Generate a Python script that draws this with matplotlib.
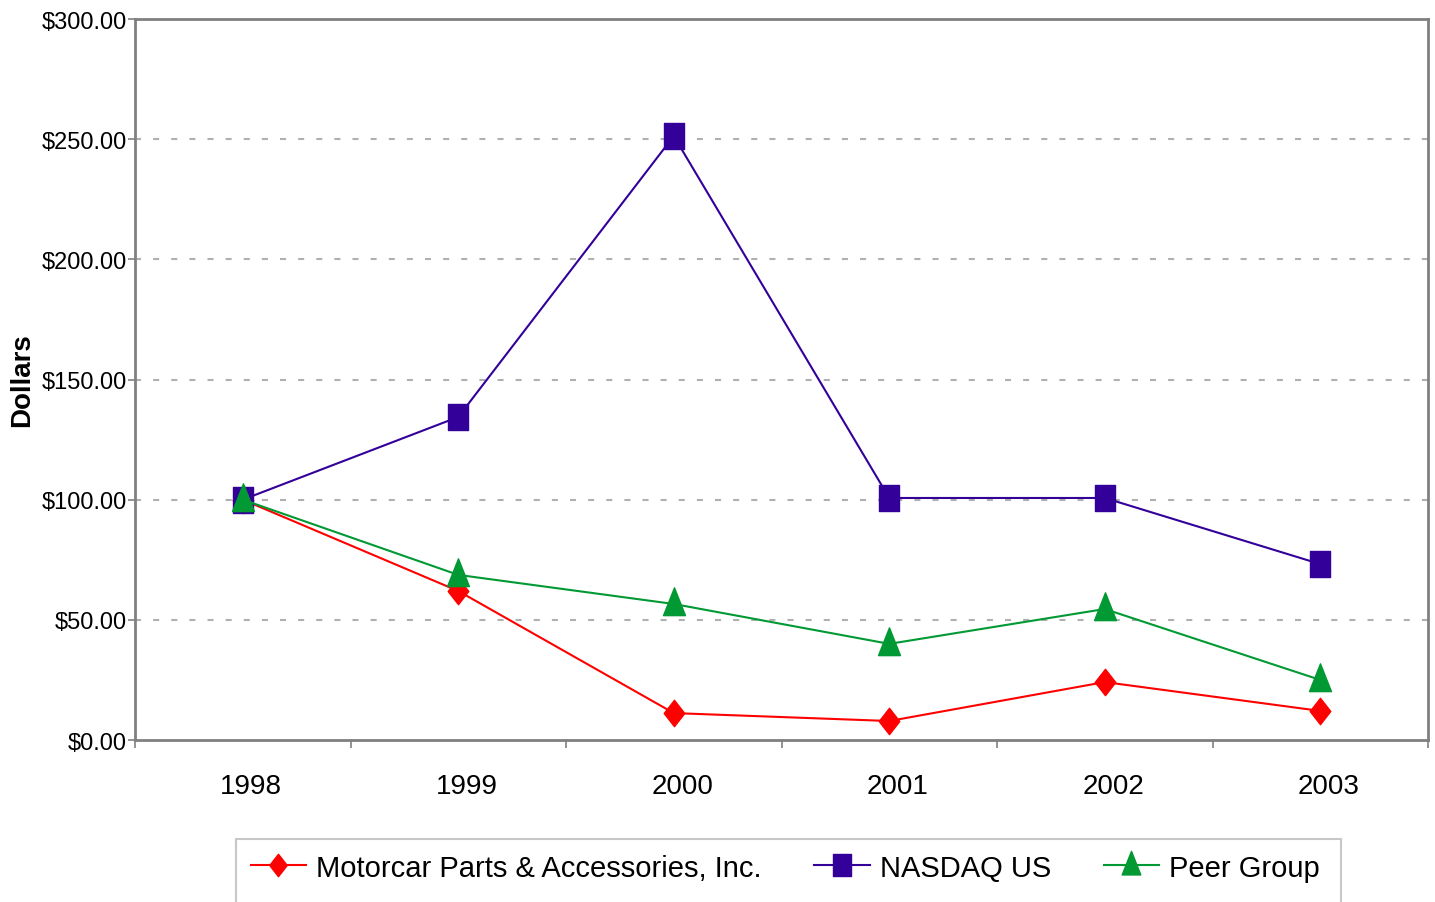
import matplotlib
matplotlib.use("Agg")
import matplotlib.pyplot as plt
from matplotlib import font_manager as fm
from matplotlib.path import Path
from matplotlib.patches import Rectangle
import numpy as np

years = ["1998", "1999", "2000", "2001", "2002", "2003"]
motorcar = [100.0, 62.0, 11.2, 7.9, 24.1, 12.1]
nasdaq = [100.0, 134.4, 251.3, 100.7, 100.7, 73.2]
peer = [100.0, 68.7, 56.6, 40.0, 54.5, 25.0]
yticks = [0, 50, 100, 150, 200, 250, 300]
ytick_labels = ["$0.00", "$50.00", "$100.00", "$150.00", "$200.00", "$250.00", "$300.00"]
series_names = ["Motorcar Parts & Accessories, Inc.", "NASDAQ US", "Peer Group"]

names = {f.name for f in fm.fontManager.ttflist}
base = "Liberation Sans" if "Liberation Sans" in names else "DejaVu Sans"
narrow = "Liberation Sans Narrow" if "Liberation Sans Narrow" in names else base
plt.rcParams["font.family"] = [base, "DejaVu Sans"]

# tall (vertically stretched) marker shapes as in the reference
sq = Path([(-0.78, -1), (0.78, -1), (0.78, 1), (-0.78, 1), (-0.78, -1)],
          [Path.MOVETO, Path.LINETO, Path.LINETO, Path.LINETO, Path.CLOSEPOLY])
dia = Path([(0, -1), (0.78, 0), (0, 1), (-0.78, 0), (0, -1)],
           [Path.MOVETO, Path.LINETO, Path.LINETO, Path.LINETO, Path.CLOSEPOLY])
tri = Path([(-0.79, -0.8), (0.79, -0.8), (0, 1.2), (-0.79, -0.8)],
           [Path.MOVETO, Path.LINETO, Path.LINETO, Path.CLOSEPOLY])

fig = plt.figure(figsize=(14.35, 9.03), dpi=100)
ax = fig.add_axes([135/1435, 1-741/903, (1428-135)/1435, (741-20)/903])

x = np.arange(len(years))
red = "#FF0000"
purple = "#330099"
green = "#009933"

ax.plot(x, motorcar, color=red, lw=1.5, marker=dia, ms=19, mec=red, mfc=red, label=series_names[0], zorder=3)
ax.plot(x, nasdaq, color=purple, lw=1.5, marker=sq, ms=19, mec=purple, mfc=purple, label=series_names[1], zorder=3)
ax.plot(x, peer, color=green, lw=1.5, marker=tri, ms=24, mec=green, mfc=green, label=series_names[2], zorder=4)

ax.set_xlim(-0.5, len(years)-0.5)
ax.set_ylim(0, 300)

ax.set_yticks(yticks)
ax.set_yticklabels(ytick_labels, fontfamily=narrow, fontsize=17)
ax.tick_params(axis="y", direction="out", length=5, width=1.2, color="#808080", pad=1)

ax.set_xticks(np.arange(len(years)+1) - 0.5)
ax.set_xticklabels([])
ax.tick_params(axis="x", which="major", direction="out", length=6, width=1.2, color="#808080")
ax.set_xticks(x + 0.04, minor=True)
ax.set_xticklabels(years, minor=True, fontsize=20)
ax.tick_params(axis="x", which="minor", length=0, pad=24)

for y in yticks[1:-1]:
    ax.axhline(y, color="#B0B0B0", lw=1.5, ls=(0, (2.9, 5.8)), zorder=1)

for s in ax.spines.values():
    s.set_color("#808080")
    s.set_linewidth(2)

ax.set_ylabel("Dollars", fontsize=20, fontweight="bold")
ax.yaxis.set_label_coords(-0.077, 0.5)

leg = fig.legend(loc="upper left", bbox_to_anchor=(236/1435, 1-840/903), ncol=3,
                 fontsize=21, frameon=False,
                 handlelength=1.9, handletextpad=0.35, columnspacing=1.8,
                 borderpad=0.5, borderaxespad=0.0, markerscale=0.85)

# legend frame whose lower edge runs off the bottom of the figure, as in the reference
fig.canvas.draw()
bb = leg.get_window_extent().transformed(fig.transFigure.inverted())
fig.patches.append(Rectangle((bb.x0, -0.05), bb.width + 6/1435, bb.y1 + 0.05,
                             transform=fig.transFigure, fill=False,
                             edgecolor="#C8C8C8", lw=1.5, zorder=0))

fig.savefig("out.png", dpi=100)
